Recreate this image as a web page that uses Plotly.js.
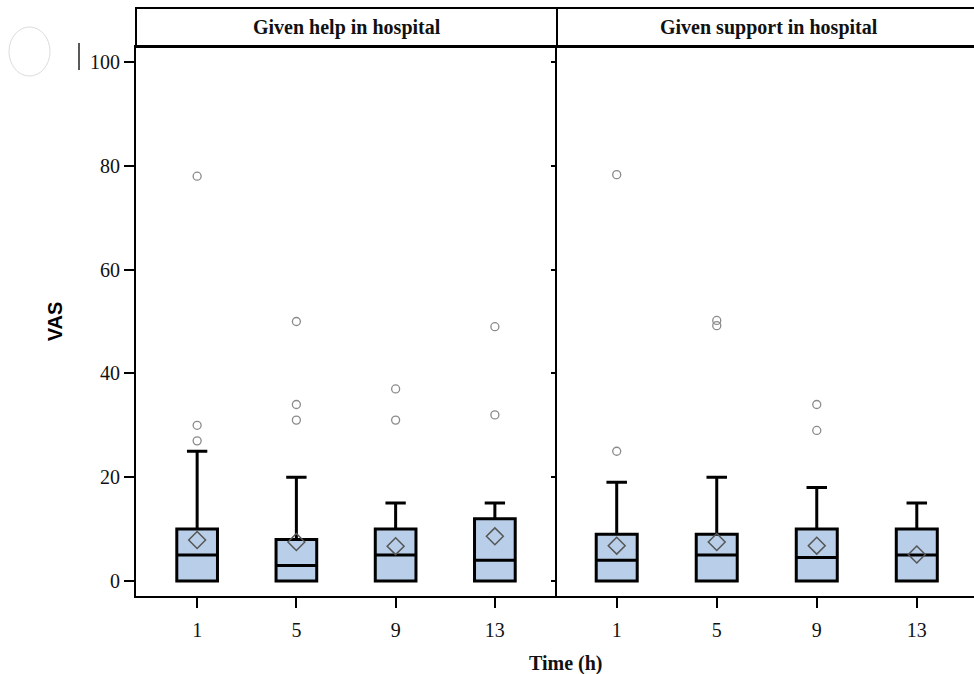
<!DOCTYPE html>
<html>
<head>
<meta charset="utf-8">
<script src="https://cdn.plot.ly/plotly-3.0.1.min.js"></script>
<style>html,body{margin:0;padding:0;background:#fff;}#chart{width:974px;height:674px;}</style>
</head>
<body>
<div id="chart"></div>
<script>
// ---- data ----
const timeCats = ['1', '5', '9', '13'];
const panelTitles = ['Given help in hospital', 'Given support in hospital'];

// Panel 1: Given help in hospital
const helpQ1 = [0, 0, 0, 0];
const helpMedian = [5, 3, 5, 4];
const helpQ3 = [10, 8, 10, 12];
const helpLower = [0, 0, 0, 0];
const helpUpper = [25, 20, 15, 15];
const helpMean = [7.9, 7.5, 6.7, 8.6];
const helpOutX = ['1', '1', '1', '5', '5', '5', '9', '9', '13', '13'];
const helpOutY = [78, 30, 27, 50, 34, 31, 37, 31, 49, 32];

// Panel 2: Given support in hospital
const suppQ1 = [0, 0, 0, 0];
const suppMedian = [4, 5, 4.5, 5];
const suppQ3 = [9, 9, 10, 10];
const suppLower = [0, 0, 0, 0];
const suppUpper = [19, 20, 18, 15];
const suppMean = [6.8, 7.5, 6.8, 5.1];
const suppOutX = ['1', '1', '5', '5', '9', '9'];
const suppOutY = [78.3, 25, 50.2, 49.2, 34, 29];

const yTicks = [0, 20, 40, 60, 80, 100];

// ---- styling ----
const W = 974, H = 674;
const serif = 'Liberation Serif, Times New Roman, serif';
const boxFill = '#b9cfe9';
const px = x => x / W;
const py = y => 1 - y / H;

function boxTrace(q1, med, q3, lo, hi, xa, ya) {
  return {
    type: 'box', x: timeCats, q1: q1, median: med, q3: q3,
    lowerfence: lo, upperfence: hi, boxpoints: false,
    width: 0.41, whiskerwidth: 0.5,
    fillcolor: boxFill, line: {color: '#000', width: 3},
    xaxis: xa, yaxis: ya, showlegend: false, hoverinfo: 'y'
  };
}
function outTrace(xs, ys, xa, ya) {
  return {
    type: 'scatter', mode: 'markers', x: xs, y: ys, xaxis: xa, yaxis: ya,
    marker: {symbol: 'circle-open', size: 8, color: '#8a8a8a', line: {width: 1.3, color: '#8a8a8a'}},
    showlegend: false
  };
}
function meanTrace(ys, xa, ya) {
  return {
    type: 'scatter', mode: 'markers', x: timeCats, y: ys, xaxis: xa, yaxis: ya,
    marker: {symbol: 'diamond-open', size: 13, color: '#555', line: {width: 1.5, color: '#555'}},
    showlegend: false
  };
}

const data = [
  boxTrace(helpQ1, helpMedian, helpQ3, helpLower, helpUpper, 'x', 'y'),
  outTrace(helpOutX, helpOutY, 'x', 'y'),
  meanTrace(helpMean, 'x', 'y'),
  boxTrace(suppQ1, suppMedian, suppQ3, suppLower, suppUpper, 'x2', 'y2'),
  outTrace(suppOutX, suppOutY, 'x2', 'y2'),
  meanTrace(suppMean, 'x2', 'y2')
];

const tickFont = {family: serif, size: 20, color: '#111'};
const yDomain = [py(596), py(47)];
const yRange = [-2.9, 102.9];

const xCommon = {
  type: 'category', categoryorder: 'array', categoryarray: timeCats,
  showline: true, linecolor: '#000', linewidth: 2, mirror: true,
  ticks: 'outside', ticklen: 10, tickwidth: 2, tickcolor: '#000',
  tickfont: tickFont, ticklabelstandoff: 5,
  showgrid: false, zeroline: false, anchor: 'y'
};

const layout = {
  width: W, height: H,
  margin: {l: 0, r: 0, t: 0, b: 0},
  paper_bgcolor: '#fff', plot_bgcolor: '#fff',
  xaxis: Object.assign({}, xCommon, {domain: [px(136), px(557)], range: [-0.616, 3.626], anchor: 'y'}),
  xaxis2: Object.assign({}, xCommon, {domain: [px(557), 1], range: [-0.597, 3.572], anchor: 'y2', mirror: true}),
  yaxis: {
    domain: yDomain, range: yRange, tickvals: yTicks,
    showline: true, linecolor: '#000', linewidth: 2, mirror: false,
    ticks: 'outside', ticklen: 10, tickwidth: 2, tickcolor: '#000',
    tickfont: tickFont, showgrid: false, zeroline: false, anchor: 'x',
    title: {text: '<b>VAS</b>', font: {family: 'Liberation Sans, Arial, sans-serif', size: 20, color: '#000'}, standoff: 22}
  },
  yaxis2: {
    domain: yDomain, range: yRange, tickvals: yTicks,
    showline: true, linecolor: '#000', linewidth: 2, mirror: false,
    ticks: 'outside', ticklen: 4, tickwidth: 2, tickcolor: '#000',
    showticklabels: false, showgrid: false, zeroline: false, anchor: 'x2'
  },
  shapes: [
    {type: 'rect', xref: 'paper', yref: 'paper', x0: px(136), x1: px(557), y0: py(47), y1: py(8), line: {color: '#000', width: 2}, fillcolor: 'rgba(0,0,0,0)'},
    {type: 'rect', xref: 'paper', yref: 'paper', x0: px(557), x1: px(980), y0: py(47), y1: py(8), line: {color: '#000', width: 2}, fillcolor: 'rgba(0,0,0,0)'},
    {type: 'circle', xref: 'paper', yref: 'paper', x0: px(9), x1: px(50), y0: py(76), y1: py(27), line: {color: '#dcdcdc', width: 1}},
    {type: 'line', xref: 'paper', yref: 'paper', x0: px(79), x1: px(79), y0: py(70), y1: py(43), line: {color: '#222', width: 1.5}}
  ],
  annotations: [
    {text: '<b>' + panelTitles[0] + '</b>', xref: 'paper', yref: 'paper', x: px(346.5), y: py(27.5), showarrow: false, xanchor: 'center', yanchor: 'middle', font: {family: serif, size: 20, color: '#111'}},
    {text: '<b>' + panelTitles[1] + '</b>', xref: 'paper', yref: 'paper', x: px(769), y: py(27.5), showarrow: false, xanchor: 'center', yanchor: 'middle', font: {family: serif, size: 20, color: '#111'}},
    {text: '<b>Time (h)</b>', xref: 'paper', yref: 'paper', x: px(566), y: py(663), showarrow: false, xanchor: 'center', yanchor: 'middle', font: {family: serif, size: 20, color: '#111'}}
  ]
};

Plotly.newPlot('chart', data, layout, {displayModeBar: false, staticPlot: true});
</script>
</body>
</html>
